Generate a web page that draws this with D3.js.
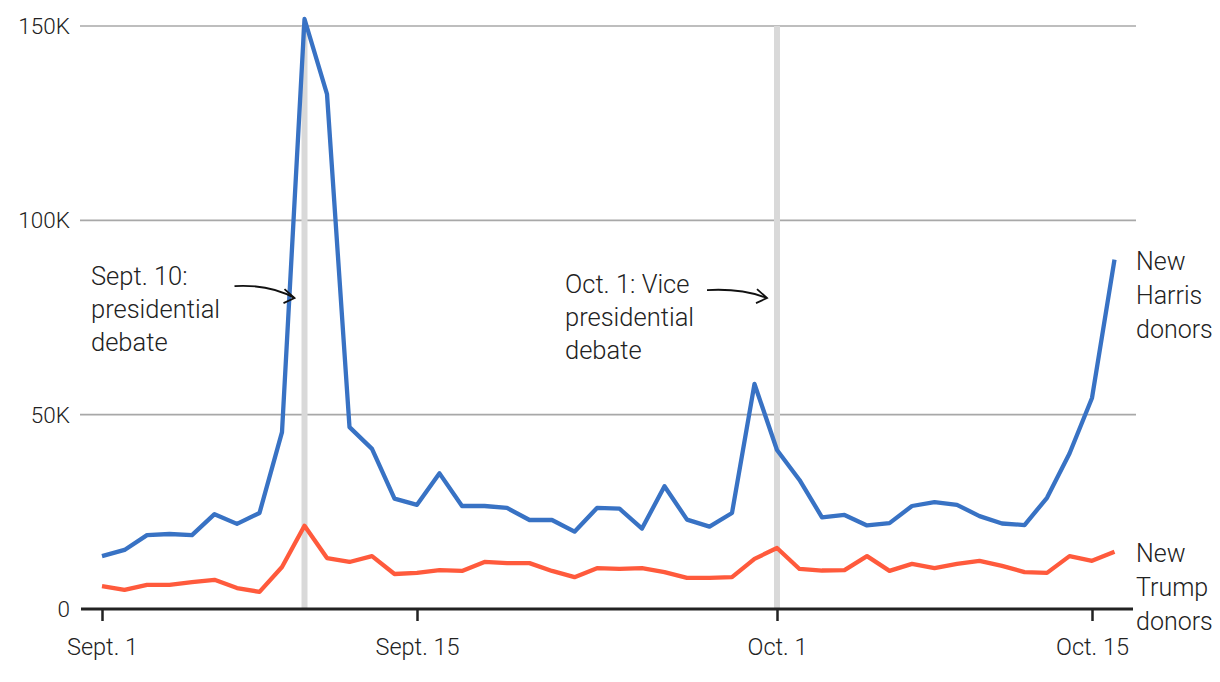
<!DOCTYPE html>
<html><head><meta charset="utf-8">
<script src="https://cdn.jsdelivr.net/npm/d3@7"></script>
<style>
body{margin:0;background:#fff;}
text{font-family:Roboto, "Noto Sans", sans-serif;font-weight:300;fill:#222;}
</style></head>
<body><svg id="c" width="1220" height="682"></svg>
<script>
const startDate = "2024-09-01";
const harris = [13.6,15.2,19.0,19.3,19.0,24.4,21.9,24.7,45.5,151.8,132.5,46.8,41.2,28.4,26.8,34.9,26.5,26.5,26.0,22.9,22.9,19.9,26.0,25.8,20.7,31.6,23.0,21.2,24.7,57.9,40.9,33.2,23.6,24.2,21.5,22.1,26.5,27.5,26.8,23.9,22.0,21.6,28.6,40.0,54.3,89.9];
const trump = [5.9,4.9,6.2,6.2,6.9,7.5,5.4,4.4,10.8,21.4,13.1,12.1,13.6,9.0,9.3,10.0,9.8,12.1,11.8,11.8,9.8,8.2,10.5,10.3,10.5,9.5,8.0,8.0,8.2,12.9,15.7,10.3,9.9,10.0,13.6,9.8,11.6,10.5,11.6,12.4,11.1,9.5,9.3,13.6,12.4,14.7];
const yTicks = [0,50000,100000,150000];
const yTickLabels = ["0","50K","100K","150K"];
const xTickDates = ["2024-09-01","2024-09-15","2024-10-01","2024-10-15"];
const xTickLabels = ["Sept. 1","Sept. 15","Oct. 1","Oct. 15"];
const eventDates = ["2024-09-10","2024-10-01"];
const annotations = [
  {lines:["Sept. 10:","presidential","debate"], date:"2024-09-10"},
  {lines:["Oct. 1: Vice","presidential","debate"], date:"2024-10-01"}
];
const seriesLabels = [["New","Harris","donors"],["New","Trump","donors"]];

const parse = d3.utcParse("%Y-%m-%d");
const t0 = parse(startDate);
const days = harris.map((_, i) => d3.utcDay.offset(t0, i));
const svg = d3.select("#c");
const x = d3.scaleUtc().domain([parse("2024-09-01"), parse("2024-10-15")]).range([102, 1092]);
const y = d3.scaleLinear().domain([0,150000]).range([609, 26]);

// gridlines
svg.append("g").selectAll("line").data(yTicks.slice(1)).join("line")
  .attr("x1", 80).attr("x2", 1136).attr("y1", d=>y(d)).attr("y2", d=>y(d))
  .attr("stroke", "#a8a8a8").attr("stroke-width", 1.6);

// y labels
svg.append("g").selectAll("text").data(yTicks).join("text")
  .attr("x", 70).attr("y", d=>y(d)+8).attr("text-anchor","end")
  .attr("font-size", 22.5).text((d,i)=>yTickLabels[i]);

// event bands
svg.append("g").selectAll("rect").data(eventDates).join("rect")
  .attr("x", d=>x(parse(d))-3).attr("width", 6)
  .attr("y", y(150000)).attr("height", y(0)-y(150000))
  .attr("fill", "#d9d9d9");

// x axis
const xAxis = d3.axisBottom(x).tickValues(xTickDates.map(parse))
  .tickFormat((d,i)=>xTickLabels[i]).tickSize(12).tickSizeOuter(0).tickPadding(17);
const ax = svg.append("g").attr("transform", `translate(0,${y(0)})`).call(xAxis);
ax.select(".domain").attr("d", "M81,0H1133").attr("stroke","#222").attr("stroke-width",3);
ax.selectAll(".tick line").attr("stroke","#222").attr("stroke-width",2.5);
ax.selectAll(".tick text").attr("font-size", 23.5).attr("font-family","Roboto").attr("font-weight",300).attr("fill","#222");

// lines
const line = d3.line().x((d,i)=>x(days[i])).y(d=>y(d*1000));
svg.append("path").datum(trump).attr("d", line).attr("fill","none")
  .attr("stroke","#ff5a3c").attr("stroke-width",4.3).attr("stroke-linejoin","round");
svg.append("path").datum(harris).attr("d", line).attr("fill","none")
  .attr("stroke","#3872c4").attr("stroke-width",4.3).attr("stroke-linejoin","round");

// annotations
const annX = [91, 565];
const annY = [285, 293];
annotations.forEach((a, k) => {
  const t = svg.append("text").attr("font-size", 25.5);
  a.lines.forEach((l, i) => t.append("tspan").attr("x", annX[k]).attr("y", annY[k] + i*33).text(l));
  const ex = x(parse(a.date)) - 10, ey = y(80000);
  const sx = ex - 60, sy = ey - 12 + k*4;
  svg.append("path")
    .attr("d", `M${sx},${sy} Q${ex-25},${sy-2} ${ex},${ey}`)
    .attr("fill","none").attr("stroke","#111").attr("stroke-width",1.8);
  svg.append("path")
    .attr("d", `M${ex-10},${ey-9} L${ex},${ey} L${ex-11},${ey+5}`)
    .attr("fill","none").attr("stroke","#111").attr("stroke-width",1.8);
});

// series labels
const lblY = [270, 562];
seriesLabels.forEach((ls, k) => {
  const t = svg.append("text").attr("font-size", 25);
  ls.forEach((l, i) => t.append("tspan").attr("x", 1136).attr("y", lblY[k] + i*34).text(l));
});
</script></body></html>
